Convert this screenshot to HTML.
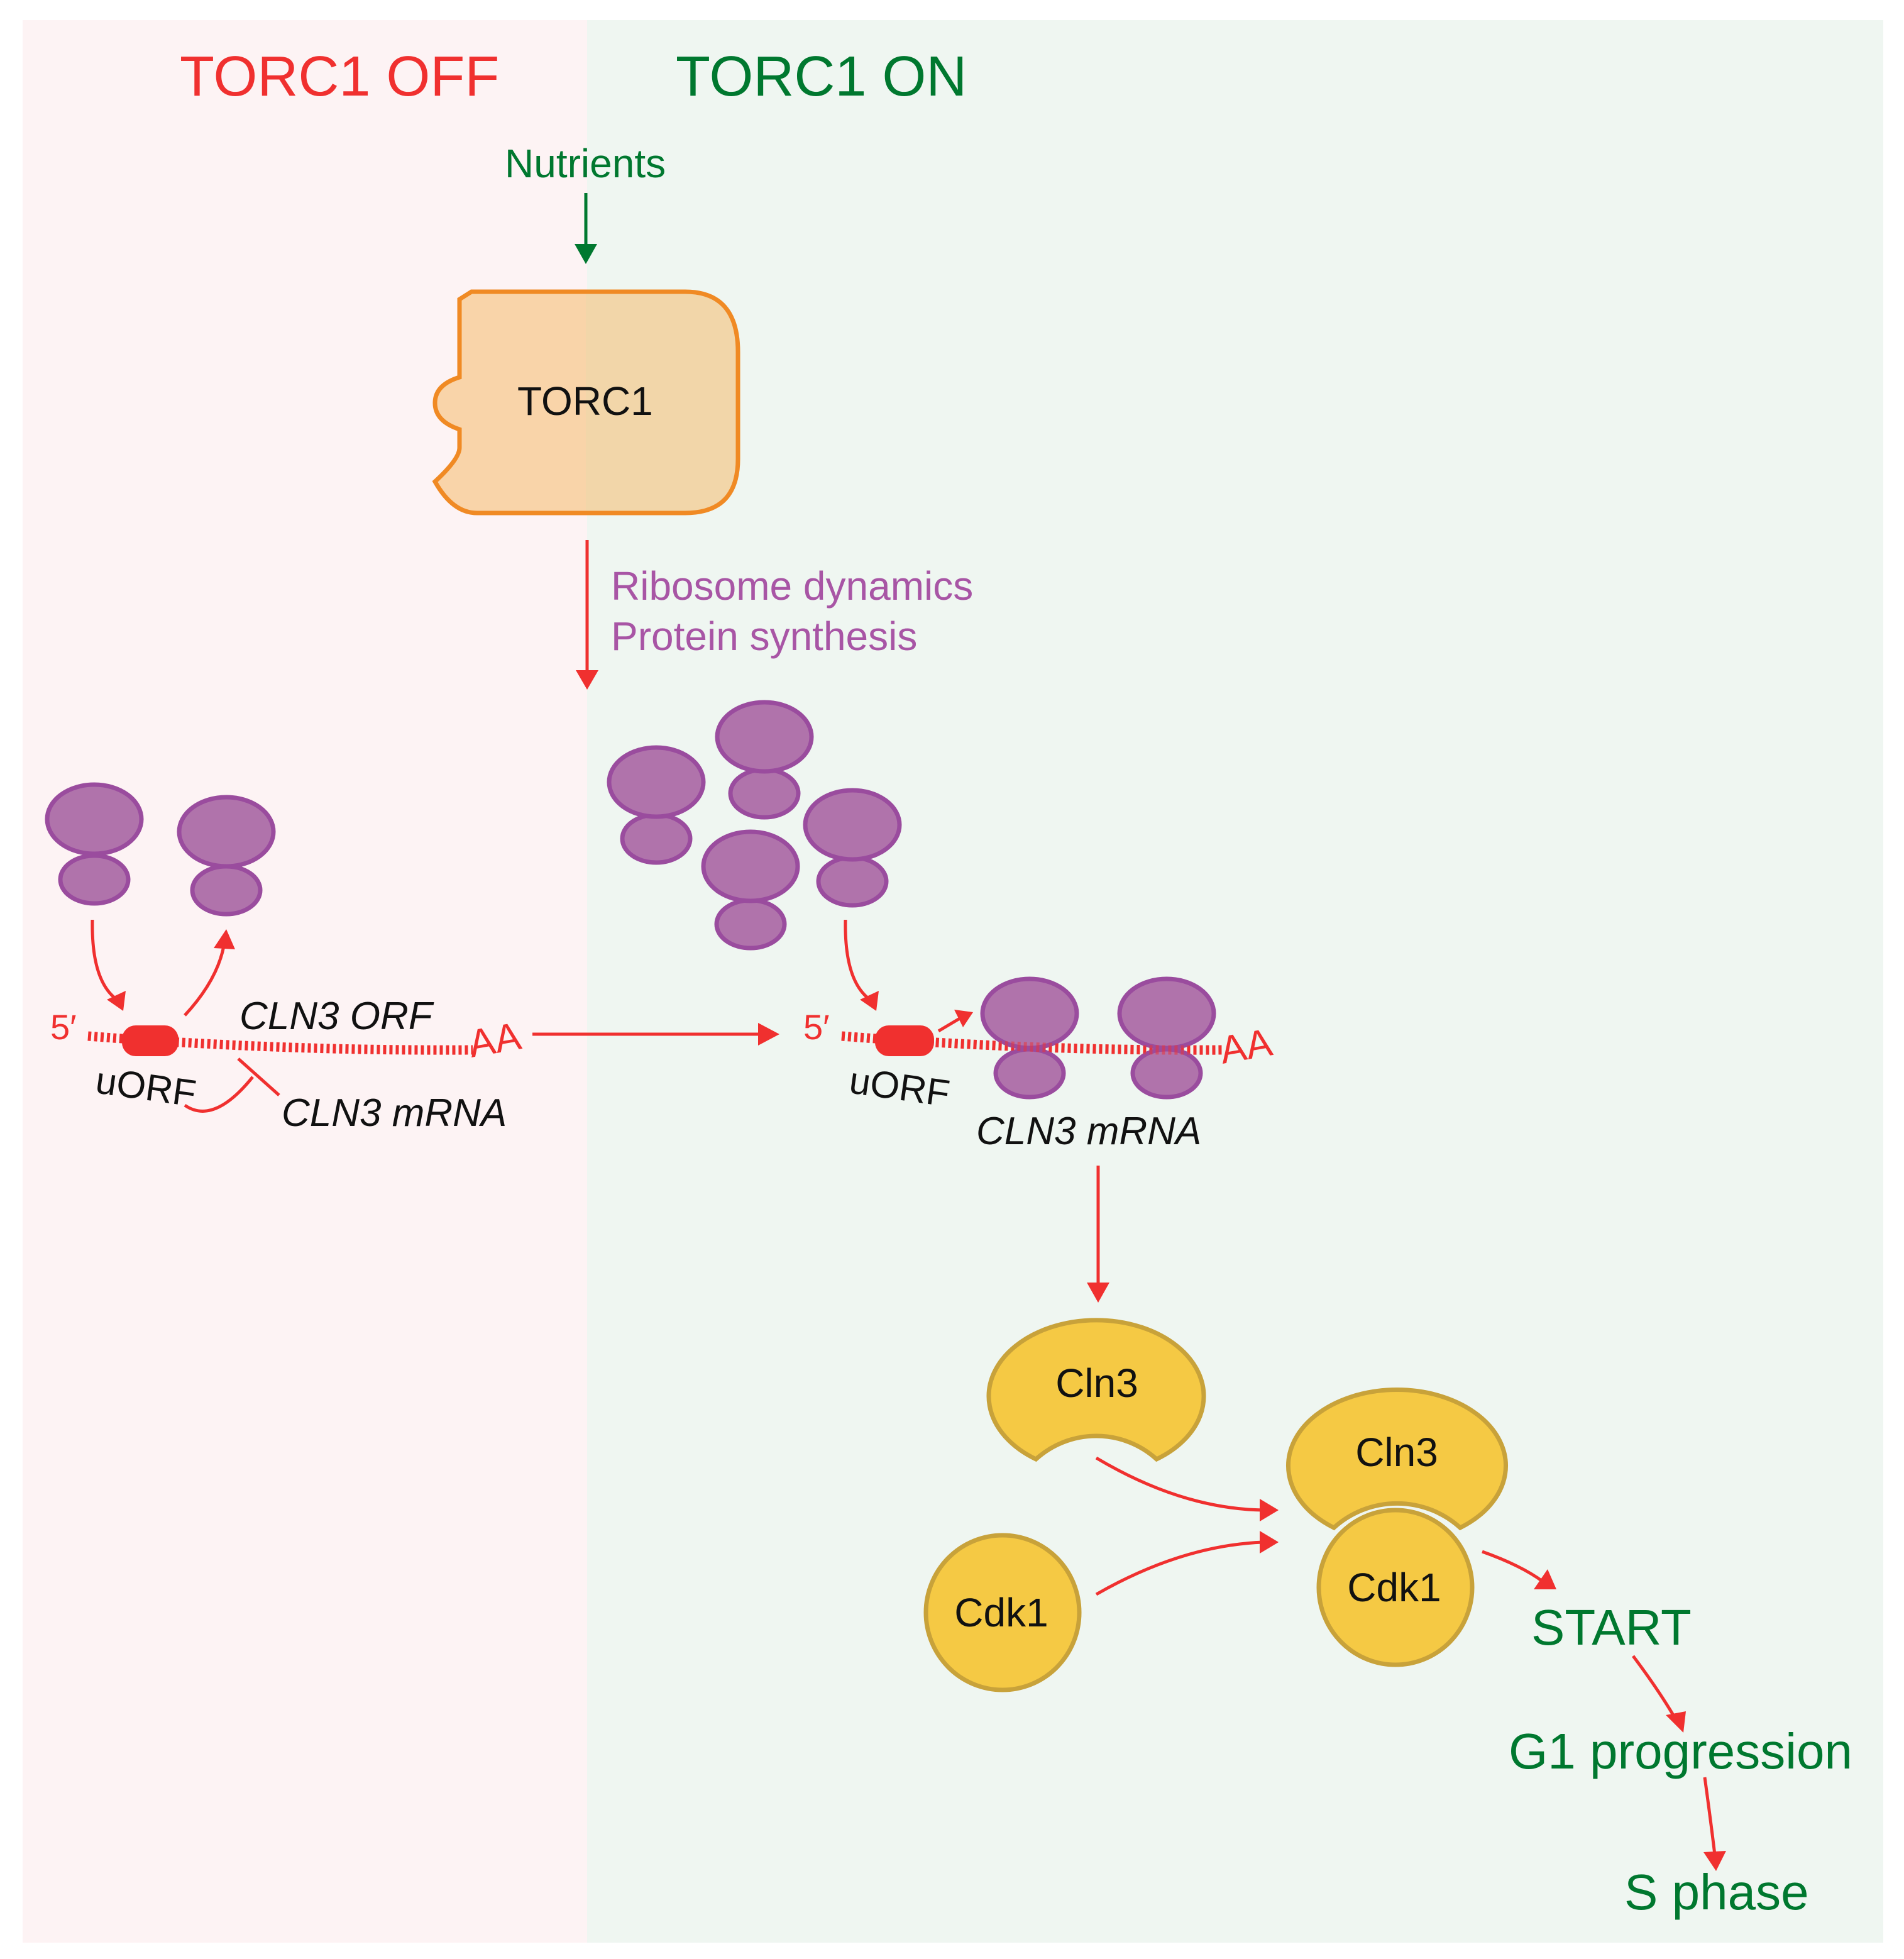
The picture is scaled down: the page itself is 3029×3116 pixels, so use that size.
<!DOCTYPE html>
<html><head><meta charset="utf-8"><style>html,body{margin:0;padding:0;background:#fff}svg{display:block}</style></head>
<body>
<svg width="3029" height="3116" viewBox="0 0 3029 3116" xmlns="http://www.w3.org/2000/svg" font-family="Liberation Sans, sans-serif">
<defs>
<linearGradient id="boxg" gradientUnits="userSpaceOnUse" x1="0" y1="0" x2="3029" y2="0">
<stop offset="0.3077" stop-color="#f9d4a9"/><stop offset="0.3077" stop-color="#f2d6a9"/>
</linearGradient>
</defs>
<rect x="0" y="0" width="3029" height="3116" fill="#fff"/>
<rect x="36" y="32" width="898" height="3058" fill="#fdf3f4"/>
<rect x="934" y="32" width="2062" height="3058" fill="#eff6f1"/>

<text x="286" y="152" font-size="90" fill="#f0302f">TORC1 OFF</text>
<text x="1075" y="152" font-size="90" fill="#00782f">TORC1 ON</text>
<text x="803" y="282" font-size="64" fill="#00782f">Nutrients</text>
<line x1="932" y1="307" x2="932" y2="392" stroke="#00782f" stroke-width="5"/>
<polygon points="914,388 950,388 932,420" fill="#00782f"/>

<path d="M750 464 L1090 464 Q1174 464 1174 560 L1174 730 Q1174 816 1090 816 L759 816 Q720 816 692 766 Q731 730 731 712 L731 683 Q692 670 692 641 Q692 612 731 600 L731 476 Z" fill="url(#boxg)" stroke="#f08a24" stroke-width="7"/>
<text x="823" y="660" font-size="64" fill="#111">TORC1</text>

<line x1="934" y1="859" x2="934" y2="1070" stroke="#f0302f" stroke-width="5"/>
<polygon points="916,1066 952,1066 934,1097" fill="#f0302f"/>
<text x="972" y="954" font-size="64" fill="#a855a5">Ribosome dynamics</text>
<text x="972" y="1034" font-size="64" fill="#a855a5">Protein synthesis</text>

<g fill="#b073ab" stroke="#9a4c9e" stroke-width="7">
<ellipse cx="150" cy="1399" rx="54" ry="38"/><ellipse cx="150" cy="1303" rx="75" ry="55"/>
<ellipse cx="360" cy="1416" rx="54" ry="38"/><ellipse cx="360" cy="1323" rx="75" ry="55"/>
<ellipse cx="1044" cy="1334" rx="54" ry="38"/><ellipse cx="1044" cy="1244" rx="75" ry="55"/>
<ellipse cx="1216" cy="1262" rx="54" ry="38"/><ellipse cx="1216" cy="1172" rx="75" ry="55"/>
<ellipse cx="1194" cy="1470" rx="54" ry="38"/><ellipse cx="1194" cy="1378" rx="75" ry="55"/>
<ellipse cx="1356" cy="1402" rx="54" ry="38"/><ellipse cx="1356" cy="1312" rx="75" ry="55"/>
</g>

<!-- left mRNA -->
<path d="M140 1648 Q450 1672 752 1670" fill="none" stroke="#f0302f" stroke-width="15" stroke-dasharray="5 5"/>
<rect x="194" y="1631" width="90" height="49" rx="22" fill="#f0302f"/>
<text x="80" y="1653" font-size="56" fill="#f0302f">5′</text>
<text x="750" y="1682" font-size="62" fill="#f0302f" transform="rotate(-10 750 1682)">AA</text>
<text x="381" y="1637" font-size="62" font-style="italic" fill="#111">CLN3 ORF</text>
<text x="150" y="1738" font-size="60" fill="#111" transform="rotate(8 150 1738)">uORF</text>
<text x="448" y="1791" font-size="62" font-style="italic" fill="#111">CLN3 mRNA</text>
<path d="M147 1463 Q145 1560 186 1590" fill="none" stroke="#f0302f" stroke-width="5"/>
<polygon points="170,1590 200,1576 196,1608" fill="#f0302f"/>
<path d="M294 1615 Q345 1560 356 1505" fill="none" stroke="#f0302f" stroke-width="5"/>
<polygon points="340,1508 374,1510 360,1478" fill="#f0302f"/>
<path d="M294 1758 Q340 1790 402 1713" fill="none" stroke="#f0302f" stroke-width="5"/>
<line x1="379" y1="1684" x2="444" y2="1742" stroke="#f0302f" stroke-width="5"/>

<line x1="847" y1="1645" x2="1210" y2="1645" stroke="#f0302f" stroke-width="5"/>
<polygon points="1206,1627 1240,1645 1206,1663" fill="#f0302f"/>

<!-- right mRNA -->
<path d="M1339 1648 Q1650 1672 1948 1670" fill="none" stroke="#f0302f" stroke-width="15" stroke-dasharray="5 5"/>
<g fill="#b073ab" stroke="#9a4c9e" stroke-width="7">
<ellipse cx="1638" cy="1707" rx="54" ry="38"/><ellipse cx="1638" cy="1612" rx="75" ry="55"/>
<ellipse cx="1856" cy="1707" rx="54" ry="38"/><ellipse cx="1856" cy="1612" rx="75" ry="55"/>
</g>
<path d="M1339 1648 Q1650 1672 1948 1670" fill="none" stroke="#f0302f" stroke-width="15" stroke-dasharray="5 5" opacity="0.5"/>
<rect x="1392" y="1631" width="94" height="49" rx="22" fill="#f0302f"/>
<text x="1278" y="1653" font-size="56" fill="#f0302f">5′</text>
<text x="1945" y="1692" font-size="62" fill="#f0302f" transform="rotate(-10 1945 1692)">AA</text>
<text x="1349" y="1738" font-size="60" fill="#111" transform="rotate(8 1349 1738)">uORF</text>
<text x="1553" y="1820" font-size="62" font-style="italic" fill="#111">CLN3 mRNA</text>
<path d="M1345 1463 Q1343 1560 1384 1590" fill="none" stroke="#f0302f" stroke-width="5"/>
<polygon points="1368,1590 1398,1576 1394,1608" fill="#f0302f"/>
<line x1="1493" y1="1640" x2="1530" y2="1618" stroke="#f0302f" stroke-width="5"/>
<polygon points="1518,1606 1548,1610 1532,1634" fill="#f0302f"/>

<line x1="1747" y1="1854" x2="1747" y2="2045" stroke="#f0302f" stroke-width="5"/>
<polygon points="1729,2040 1765,2040 1747,2072" fill="#f0302f"/>

<!-- Cln3 / Cdk1 -->
<g fill="#f5c944" stroke="#c8a23a" stroke-width="7">
<path d="M1648 2321 A171 121 0 1 1 1840 2321 A143 143 0 0 0 1648 2321 Z"/>
<path d="M2122 2430 A173 121 0 1 1 2323 2430 A150 150 0 0 0 2122 2430 Z"/>
<ellipse cx="2220" cy="2525" rx="122" ry="123"/>
<ellipse cx="1595" cy="2565" rx="122" ry="123"/>
</g>
<text x="1745" y="2222" font-size="64" fill="#111" text-anchor="middle">Cln3</text>
<text x="2222" y="2332" font-size="64" fill="#111" text-anchor="middle">Cln3</text>
<text x="2218" y="2547" font-size="64" fill="#111" text-anchor="middle">Cdk1</text>
<text x="1593" y="2587" font-size="64" fill="#111" text-anchor="middle">Cdk1</text>

<path d="M1744 2319 Q1880 2400 2010 2402" fill="none" stroke="#f0302f" stroke-width="5"/>
<polygon points="2004,2384 2034,2402 2004,2420" fill="#f0302f"/>
<path d="M1744 2536 Q1880 2458 2010 2453" fill="none" stroke="#f0302f" stroke-width="5"/>
<polygon points="2004,2435 2034,2453 2004,2471" fill="#f0302f"/>
<path d="M2358 2468 Q2420 2490 2455 2516" fill="none" stroke="#f0302f" stroke-width="5"/>
<polygon points="2440,2528 2476,2528 2462,2496" fill="#f0302f"/>
<text x="2436" y="2616" font-size="80" fill="#00782f">START</text>
<path d="M2598 2634 Q2640 2690 2666 2735" fill="none" stroke="#f0302f" stroke-width="5"/>
<polygon points="2650,2728 2682,2722 2678,2756" fill="#f0302f"/>
<text x="2400" y="2813" font-size="80" fill="#00782f">G1 progression</text>
<path d="M2712 2827 Q2722 2900 2728 2950" fill="none" stroke="#f0302f" stroke-width="5"/>
<polygon points="2710,2946 2746,2944 2730,2976" fill="#f0302f"/>
<text x="2584" y="3037" font-size="80" fill="#00782f">S phase</text>
</svg>
</body></html>
